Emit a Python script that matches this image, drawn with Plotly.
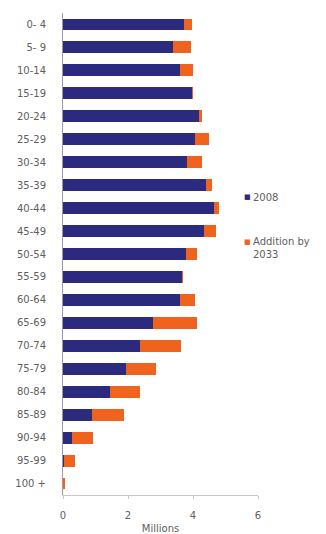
import plotly.graph_objects as go

ages = ["0- 4", "5- 9", "10-14", "15-19", "20-24", "25-29", "30-34", "35-39", "40-44",
        "45-49", "50-54", "55-59", "60-64", "65-69", "70-74", "75-79", "80-84", "85-89",
        "90-94", "95-99", "100 +"]
pop_2008 = [3.71, 3.38, 3.61, 3.98, 4.18, 4.05, 3.82, 4.39, 4.64, 4.33, 3.77, 3.67,
            3.61, 2.77, 2.38, 1.95, 1.44, 0.89, 0.29, 0.02, 0.0]
total_2033 = [3.98, 3.95, 4.00, 3.99, 4.29, 4.49, 4.29, 4.59, 4.80, 4.72, 4.12, 3.68,
              4.07, 4.12, 3.64, 2.87, 2.38, 1.88, 0.92, 0.36, 0.05]
addition = [round(t - p, 2) for t, p in zip(total_2033, pop_2008)]
series_names = ["2008", "Addition by<br>2033"]

navy = "#2b2a7f"
orange = "#f0631f"
grey = "#606060"
font = "DejaVu Sans"

fig = go.Figure()
fig.add_trace(go.Bar(y=ages, x=pop_2008, orientation="h", name="2008",
                     marker=dict(color=navy, line=dict(width=0))))
fig.add_trace(go.Bar(y=ages, x=addition, orientation="h", name="Addition by 2033",
                     marker=dict(color=orange, line=dict(width=0))))

# custom legend (small square swatches, like the original)
legend_y = [0.618, 0.512]
for name, col, ly in zip(series_names, [navy, orange], legend_y):
    fig.add_annotation(xref="paper", yref="paper", x=0.944, y=ly if "<br>" not in name else ly + 0.013,
                       text="■", showarrow=False, font=dict(size=7, color=col),
                       xanchor="center", yanchor="middle")
    fig.add_annotation(xref="paper", yref="paper", x=0.965, y=ly, text=name,
                       showarrow=False, align="left", xanchor="left", yanchor="middle",
                       font=dict(size=10, color=grey, family=font))

fig.update_layout(
    barmode="stack",
    bargap=0.48,
    width=326, height=534,
    margin=dict(l=63, r=68, t=13, b=39, autoexpand=False),
    paper_bgcolor="white", plot_bgcolor="white",
    font=dict(family=font, size=10, color=grey),
    showlegend=False,
    xaxis=dict(range=[0, 6], tickvals=[0, 2, 4, 6], showgrid=False, zeroline=False,
               showline=True, linecolor="#c8c8c8", linewidth=1,
               ticks="outside", ticklen=3, tickcolor="#c8c8c8", ticklabelstandoff=8,
               title=dict(text="Millions", font=dict(size=10, color=grey), standoff=4),
               tickfont=dict(size=10, color=grey)),
    yaxis=dict(autorange="reversed", showgrid=False, showline=True, linecolor="#9a9aa8",
               linewidth=1, ticks="", tickfont=dict(size=10, color=grey), ticklabelstandoff=14),
)

fig.write_html("out.html")
